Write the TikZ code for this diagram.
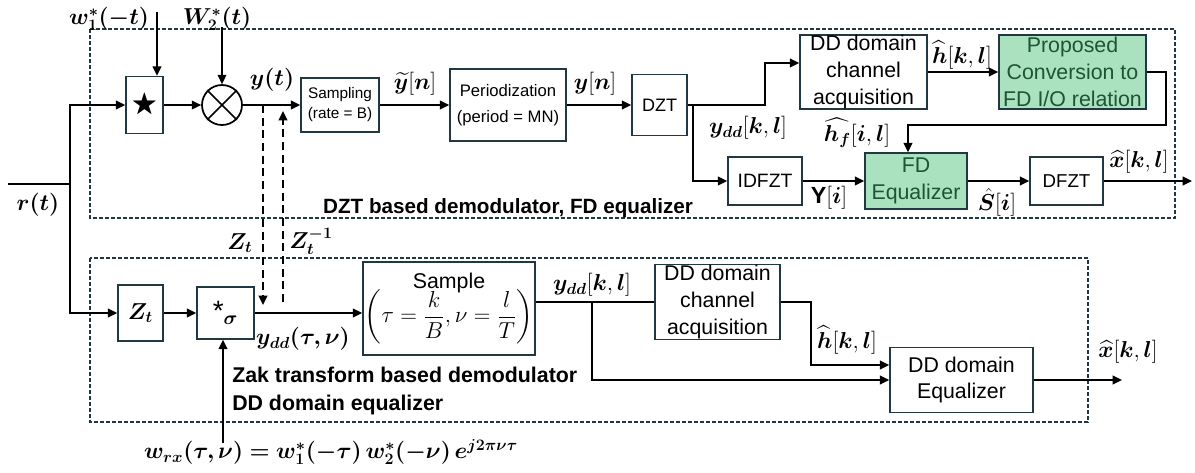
\documentclass[tikz,border=0pt]{standalone}
\usepackage[no-math]{fontspec}
\setmainfont{Liberation Sans}
\usepackage{amsmath,amssymb,bm}
\usetikzlibrary{arrows.meta}
\definecolor{borde}{RGB}{32,56,66}
\definecolor{verde}{RGB}{170,226,192}
\definecolor{verdetxt}{RGB}{28,84,52}
\tikzset{
  bloque/.style={draw=borde, line width=1.1pt, inner sep=0pt, align=center},
  tam/.style 2 args={minimum width=#1*0.75pt, minimum height=#2*0.75pt},
  verdebox/.style={bloque, fill=verde, text=verdetxt},
  etiq/.style={inner sep=0pt, font=\fontsize{17.5}{20}\selectfont},
  linea/.style={line width=1.3pt},
  flecha/.style={line width=1.3pt, -{Triangle[length=7pt,width=6.5pt]}},
  flechap/.style={flecha, dash pattern=on 6pt off 3.5pt},
  zona/.style={draw=borde, line width=1.1pt, dash pattern=on 3pt off 1.5pt},
  grande/.style={font=\fontsize{16}{20}\selectfont},
}
\begin{document}
\begin{tikzpicture}[x=0.75pt, y=-0.75pt]
\useasboundingbox (0,0) rectangle (1195,472);

% Las dos zonas punteadas
\draw[zona] (90,29) rectangle (1175,218);
\draw[zona] (90,258) rectangle (1088,422);

% Bloques de la rama de arriba (DZT)
\node[bloque, tam={37}{57}] (estrella) at (144.5,105) {\fontsize{20}{20}\selectfont$\bigstar$};
\node[draw=black, line width=1.3pt, circle, minimum size=40*0.75pt, inner sep=0pt] (mezcla) at (222,105) {};
\draw[line width=1.3pt] (mezcla.45) -- (mezcla.225) (mezcla.135) -- (mezcla.315);
\node[bloque, tam={78}{54}, font=\fontsize{11.5}{15}\selectfont] (samp) at (340,105) {Sampling\\(rate = B)};
\node[bloque, tam={116}{72}, font=\fontsize{12.5}{19.5}\selectfont] (per) at (508,105) {Periodization\\(period = MN)};
\node[bloque, tam={55}{61}, font=\fontsize{13.5}{16}\selectfont] (dzt) at (659.5,105) {DZT};
\node[bloque, tam={127}{74}, grande] (ddtop) at (863.5,72) {DD domain\\channel\\acquisition};
\node[verdebox, tam={147}{74}, grande] (conv) at (1072.5,72) {Proposed\\Conversion to\\FD I/O relation};
\node[bloque, tam={74}{48}, font=\fontsize{14.5}{17}\selectfont] (idfzt) at (765,181) {IDFZT};
\node[verdebox, tam={102}{56}, grande] (fdeq) at (916,181) {FD\\Equalizer};
\node[bloque, tam={73}{48}, font=\fontsize{14}{17}\selectfont] (dfzt) at (1066.5,181) {DFZT};

% Bloques de la rama de abajo (Zak)
\node[bloque, tam={45}{56}, font=\fontsize{18}{20}\selectfont] (zt) at (140.5,313) {$\bm{Z_t}$};
\node[bloque, tam={57}{52}, font=\fontsize{21}{22}\selectfont] (sig) at (225.5,313) {*$_{\bm\sigma}$};
\node[bloque, tam={172}{93}, grande] (smp) at (449,308.5) {Sample\\[-3pt]{\fontsize{17}{20}\selectfont$\left(\tau=\dfrac{k}{B},\nu=\dfrac{l}{T}\right)$}};
\node[bloque, tam={125}{75}, grande] (ddbot) at (717.5,302) {DD domain\\channel\\acquisition};
\node[bloque, tam={143}{65}, grande] (ddeq) at (961.5,380) {DD domain\\Equalizer};

% Etiquetas
\node[etiq] (lw1) at (109,19) {$\bm{w_1^*(-t)}$};
\node[etiq] (lw2) at (217,19) {$\bm{W_2^*(t)}$};
\node[etiq] (lr) at (38,205) {$\bm{r(t)}$};
\node[etiq] (lyt) at (272,80) {$\bm{y(t)}$};
\node[etiq] (lytil) at (415,84) {$\widetilde{\bm y}[\bm n]$};
\node[etiq] (lyn) at (595,84) {$\bm y[\bm n]$};
\node[etiq] (lydd1) at (748,128) {$\bm{y_{dd}}[\bm k,\bm l]$};
\node[etiq] (lh1) at (962,55) {$\widehat{\bm h}[\bm k,\bm l]$};
\node[etiq] (lhf) at (857,133) {$\widehat{\bm h_{\bm f}}[\bm i,\bm l]$};
\node[etiq] (lY) at (829,198) {$\text{\bfseries Y}[\bm i]$};
\node[etiq] (lS) at (997,202) {$\hat{\bm S}[\bm i]$};
\node[etiq] (lx1) at (1139,162) {$\widehat{\bm x}[\bm k,\bm l]$};
\node[inner sep=0pt, font=\bfseries\fontsize{15.5}{18}\selectfont] (tzona1) at (508,208) {DZT based demodulator, FD equalizer};
\node[etiq] (lzt) at (240,243) {$\bm{Z_t}$};
\node[etiq] (lzi) at (311,241) {$\bm{Z_t^{-1}}$};
\node[etiq] (lydd2) at (303,339) {$\bm{y_{dd}(\tau,\nu)}$};
\node[anchor=west, align=left, inner sep=0pt, font=\bfseries\fontsize{16}{21}\selectfont] (tzona2) at (232,391) {Zak transform based demodulator\\DD domain equalizer};
\node[etiq] (lwrx) at (331,452) {$\bm{w_{rx}(\tau,\nu) = w_1^*(-\tau)\, w_2^*(-\nu)\, e^{j2\pi\nu\tau}}$};
\node[etiq] (lydd3) at (592,285) {$\bm{y_{dd}}[\bm k,\bm l]$};
\node[etiq] (lh2) at (847,340) {$\widehat{\bm h}[\bm k,\bm l]$};
\node[etiq] (lx2) at (1128,352) {$\widehat{\bm x}[\bm k,\bm l]$};

% Entrada r(t) y sus dos ramas
\coordinate (rin) at (8,184);
\coordinate (rnudo) at (70,184);
\draw[linea] (rin) -- (rnudo);
\draw[flecha] (rnudo) |- (estrella.west);
\draw[flecha] (rnudo) |- (zt.west);

% Conexiones de arriba
\coordinate (w1in) at (157,12);
\coordinate (w2in) at (222,27);
\draw[flecha] (w1in) -- (w1in |- estrella.north);
\draw[flecha] (w2in) -- (mezcla.north);
\draw[flecha] (estrella.east) -- (mezcla.west);
\draw[flecha] (mezcla.east) -- (samp.west);
\draw[flecha] (samp.east) -- (per.west);
\draw[flecha] (per.east) -- (dzt.west);
\coordinate (tap1) at (693,105);
\coordinate (sube) at (765,105);
\draw[flecha] (dzt.east) -- (sube) |- ([yshift=6.75pt]ddtop.west);
\draw[flecha] (tap1) |- (idfzt.west);
\draw[flecha] (ddtop.east) -- (conv.west);
\coordinate (fb) at (908,125);
\draw[flecha] (conv.east) -- ++(19,0) |- (fb) -- (fb |- fdeq.north);
\draw[flecha] (idfzt.east) -- (fdeq.west);
\draw[flecha] (fdeq.east) -- (dfzt.west);
\coordinate (out1) at (1192,181);
\draw[flecha] (dfzt.east) -- (out1);

% Z_t y Z_t^{-1} entre las dos ramas
\coordinate (za) at (263,105);
\coordinate (zb) at (263,305);
\coordinate (zc) at (283,302);
\coordinate (zd) at (283,111);
\draw[flechap] (za) -- (zb);
\draw[flechap] (zc) -- (zd);

% Conexiones de abajo
\draw[flecha] (zt.east) -- (sig.west);
\draw[flecha] (sig.east) -- (sig.east -| smp.west);
\coordinate (wrxin) at (223,443);
\draw[flecha] (wrxin) -- (wrxin |- sig.south);
\coordinate (tap3) at (592,302);
\draw[linea] (smp.east |- tap3) -- (ddbot.west);
\draw[flecha] (tap3) |- (ddeq.west);
\coordinate (baja) at (811,302);
\draw[flecha] (ddbot.east) -- (baja) |- ([yshift=11.25pt]ddeq.west);
\coordinate (out2) at (1122,380);
\draw[flecha] (ddeq.east) -- (out2);
\end{tikzpicture}
\end{document}
